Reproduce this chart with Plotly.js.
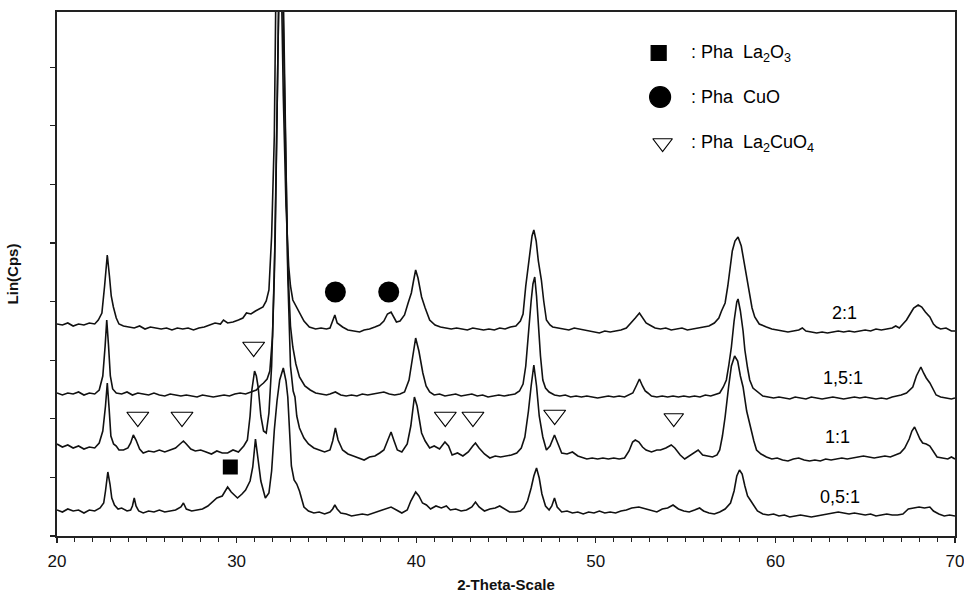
<!DOCTYPE html>
<html>
<head>
<meta charset="utf-8">
<script src="https://cdn.plot.ly/plotly-3.0.1.min.js"></script>
<style>html,body{margin:0;padding:0;background:#fff;}#chart{width:964px;height:594px;}</style>
</head>
<body>
<div id="chart"></div>
<script>
// ---- data (2-theta in degrees, intensity in arbitrary Lin(Cps) units, offset as drawn) ----
const x_05 = [20.0,20.3,20.6,20.9,21.2,21.5,21.8,22.1,22.4,22.6,22.7,22.83,22.95,23.05,23.2,23.4,23.6,23.9,24.1,24.2,24.3,24.4,24.55,24.8,25.1,25.4,25.7,26.0,26.3,26.6,26.9,27.04,27.2,27.5,27.8,28.1,28.4,28.6,28.9,29.2,29.5,29.7,29.9,30.05,30.3,30.5,30.75,30.9,31.05,31.2,31.35,31.6,31.8,31.95,32.1,32.25,32.4,32.6,32.75,32.85,32.95,33.05,33.2,33.35,33.5,33.75,34.0,34.3,34.6,34.9,35.2,35.35,35.47,35.6,35.8,36.1,36.4,36.7,37.0,37.3,37.6,37.9,38.2,38.6,38.9,39.2,39.5,39.7,39.97,40.15,40.35,40.57,40.8,41.1,41.4,41.68,41.9,42.2,42.5,42.8,43.1,43.3,43.5,43.8,44.1,44.4,44.65,44.9,45.2,45.5,45.8,46.0,46.2,46.4,46.55,46.7,46.85,47.0,47.2,47.4,47.55,47.7,47.85,48.1,48.4,48.7,49.0,49.3,49.6,49.9,50.2,50.5,50.8,51.1,51.4,51.7,52.0,52.4,52.8,53.1,53.4,53.7,54.0,54.3,54.6,54.9,55.2,55.5,55.78,56.0,56.3,56.6,56.9,57.2,57.5,57.7,57.85,58.0,58.15,58.3,58.45,58.6,58.8,59.0,59.3,59.6,59.9,60.2,60.5,60.8,61.1,61.4,61.7,62.0,62.3,62.6,62.9,63.2,63.5,63.8,64.1,64.4,64.7,65.0,65.3,65.6,65.9,66.2,66.5,66.8,67.1,67.4,67.7,68.0,68.3,68.6,68.8,69.1,69.4,69.7,70.0];
const y_05 = [26,24,27,25,26,23,26,25,28,33,45,64,52,38,31,27,28,25,26,30,38,30,25,23,25,24,26,24,25,26,29,33,27,25,26,27,30,33,38,40,49,44,40,38,42,46,55,69,97,75,55,38,43,65,106,135,156,168,155,139,100,70,56,52,45,29,25,23,24,22,24,27,31,27,23,22,20,21,22,21,23,25,27,29,26,23,26,35,44,40,33,31,27,30,28,30,26,27,25,26,29,34,29,25,27,28,30,27,24,24,25,28,35,48,60,68,58,42,30,26,30,38,29,24,25,23,24,22,24,23,25,23,24,23,25,26,28,29,27,25,24,27,28,31,27,25,24,26,28,25,23,22,24,27,33,45,60,66,62,50,40,36,30,25,22,21,22,20,21,19,20,21,20,19,20,21,22,23,24,23,22,23,22,21,22,20,21,22,21,21,22,27,28,29,28,29,25,22,20,21,20];

const x_11 = [20.0,20.3,20.6,20.9,21.2,21.5,21.8,22.1,22.35,22.55,22.7,22.8,22.9,23.0,23.15,23.3,23.45,23.7,23.95,24.1,24.25,24.4,24.6,24.8,25.1,25.4,25.7,26.0,26.3,26.6,26.85,27.04,27.2,27.45,27.7,28.0,28.3,28.6,28.9,29.2,29.5,29.8,30.1,30.4,30.6,30.75,30.85,31.0,31.1,31.2,31.35,31.5,31.65,31.8,31.95,32.1,32.25,32.4,32.55,32.7,32.85,33.0,33.15,33.25,33.35,33.5,33.75,34.0,34.3,34.6,34.9,35.2,35.35,35.5,35.65,35.9,36.2,36.5,36.8,37.1,37.4,37.7,37.97,38.2,38.4,38.6,38.75,38.95,39.2,39.5,39.7,39.9,40.05,40.3,40.5,40.75,41.0,41.3,41.6,41.8,42.0,42.3,42.6,42.9,43.15,43.3,43.5,43.8,44.1,44.4,44.7,45.0,45.3,45.6,45.85,46.05,46.25,46.4,46.55,46.7,46.85,47.05,47.25,47.45,47.7,47.9,48.1,48.4,48.7,49.0,49.2,49.5,49.8,50.1,50.4,50.7,51.0,51.3,51.6,51.85,52.05,52.2,52.4,52.6,52.8,53.1,53.4,53.6,53.9,54.2,54.4,54.7,54.95,55.2,55.5,55.7,55.95,56.2,56.5,56.75,56.9,57.05,57.2,57.4,57.55,57.73,57.9,58.05,58.2,58.4,58.6,58.8,58.95,59.2,59.5,59.8,60.1,60.4,60.7,61.0,61.3,61.6,61.9,62.2,62.5,62.8,63.1,63.4,63.7,64.0,64.3,64.6,64.9,65.2,65.5,65.8,66.1,66.4,66.7,66.95,67.2,67.45,67.6,67.75,67.9,68.05,68.2,68.4,68.6,68.8,69.0,69.3,69.6,69.8,70.0];
const y_11 = [92,89,91,88,90,87,89,88,93,105,130,153,128,100,92,90,86,86,88,93,101,96,87,83,85,84,86,84,86,88,92,95,92,87,85,86,84,82,85,83,83,86,84,90,96,120,146,165,160,149,120,105,103,123,170,260,420,600,600,430,260,170,145,139,120,108,98,92,88,86,84,86,95,108,96,86,82,80,78,76,79,80,83,86,95,104,96,86,84,92,110,139,130,103,95,88,90,87,94,90,81,83,80,84,90,93,88,82,78,80,79,80,81,83,88,99,125,150,171,150,120,99,86,90,101,92,83,82,84,80,79,77,78,77,78,77,78,77,78,85,94,96,94,89,86,84,86,86,88,91,88,81,77,80,84,86,81,80,79,81,86,100,119,150,170,180,175,160,149,125,109,95,86,82,79,77,78,76,75,77,78,76,75,76,75,77,76,77,78,77,78,79,80,79,78,79,80,79,81,83,88,97,105,109,103,97,93,92,90,84,79,78,77,79,77];

const x_151 = [20.0,20.3,20.6,20.9,21.2,21.5,21.8,22.1,22.35,22.55,22.68,22.77,22.87,22.97,23.1,23.3,23.6,23.9,24.2,24.5,24.8,25.1,25.4,25.7,26.0,26.3,26.6,26.9,27.2,27.5,27.8,28.1,28.4,28.7,29.0,29.3,29.6,29.9,30.2,30.5,30.8,31.1,31.3,31.5,31.7,31.85,32.0,32.15,32.3,32.4,32.55,32.7,32.85,33.0,33.13,33.3,33.5,33.8,34.1,34.4,34.7,35.0,35.2,35.5,35.8,36.1,36.4,36.7,37.0,37.3,37.6,37.9,38.2,38.5,38.8,39.1,39.35,39.6,39.8,39.97,40.15,40.37,40.55,40.75,41.0,41.3,41.6,41.9,42.2,42.5,42.8,43.1,43.4,43.7,44.0,44.3,44.6,44.9,45.2,45.5,45.75,45.95,46.1,46.25,46.4,46.5,46.6,46.7,46.8,46.92,47.05,47.2,47.4,47.7,48.0,48.3,48.6,48.9,49.2,49.5,49.8,50.1,50.4,50.7,51.0,51.3,51.6,51.85,52.06,52.25,52.43,52.6,52.75,52.9,53.1,53.4,53.7,54.0,54.3,54.6,54.9,55.2,55.5,55.8,56.1,56.4,56.7,56.9,57.1,57.27,57.4,57.55,57.7,57.85,57.92,58.05,58.2,58.3,58.45,58.57,58.75,59.0,59.3,59.6,59.9,60.2,60.5,60.8,61.1,61.4,61.7,62.0,62.3,62.6,62.9,63.2,63.5,63.8,64.1,64.4,64.7,65.0,65.3,65.6,65.9,66.2,66.5,66.8,67.0,67.3,67.5,67.65,67.85,68.0,68.1,68.25,68.4,68.6,68.8,68.95,69.2,69.5,69.8,70.0];
const y_151 = [143,141,143,142,144,141,143,142,146,160,190,216,190,160,147,143,142,144,141,143,142,141,143,141,140,142,141,140,141,140,139,141,140,139,140,141,140,142,143,142,144,146,150,153,157,165,200,300,480,600,560,400,270,210,189,172,159,150,146,143,142,141,142,144,141,140,141,140,142,141,142,143,144,142,141,142,144,156,180,198,185,163,150,144,141,142,140,141,142,140,141,142,140,141,139,140,141,140,141,142,145,152,170,205,235,252,259,240,210,180,156,148,144,141,140,141,139,140,139,140,139,138,139,140,139,140,139,141,143,150,157,150,145,143,140,139,140,139,140,139,140,139,140,139,141,140,142,143,149,156,170,189,215,234,237,225,205,186,168,156,148,144,140,139,138,139,138,137,139,138,137,139,138,137,138,139,138,137,138,139,138,139,138,137,138,137,139,140,141,143,146,149,160,166,169,163,158,153,146,141,139,138,137,138];

const x_21 = [20.0,20.3,20.6,20.9,21.2,21.5,21.8,22.1,22.3,22.5,22.65,22.8,22.92,23.02,23.14,23.3,23.45,23.7,24.0,24.3,24.6,24.9,25.2,25.5,25.8,26.1,26.4,26.7,27.0,27.3,27.6,27.9,28.2,28.5,28.8,29.1,29.27,29.5,29.8,30.1,30.35,30.55,30.8,31.05,31.3,31.47,31.65,31.8,31.95,32.1,32.22,32.45,32.6,32.75,32.9,33.0,33.13,33.3,33.5,33.75,34.05,34.4,34.7,35.0,35.2,35.35,35.47,35.6,35.9,36.2,36.5,36.85,37.1,37.4,37.7,37.97,38.2,38.4,38.6,38.75,38.9,39.1,39.35,39.55,39.73,39.85,39.97,40.1,40.3,40.5,40.75,41.05,41.35,41.65,41.95,42.25,42.55,42.85,43.15,43.45,43.75,44.05,44.35,44.65,44.95,45.25,45.55,45.8,45.95,46.1,46.3,46.45,46.55,46.68,46.8,46.97,47.1,47.25,47.45,47.6,47.9,48.2,48.5,48.8,49.1,49.4,49.7,50.0,50.2,50.5,50.8,51.1,51.4,51.7,51.97,52.2,52.43,52.6,52.8,53.0,53.3,53.6,53.9,54.2,54.5,54.8,55.1,55.4,55.7,56.0,56.3,56.6,56.85,57.0,57.2,57.35,57.45,57.6,57.75,57.92,58.1,58.3,58.45,58.57,58.7,58.85,59.1,59.5,59.8,60.1,60.4,60.7,61.0,61.3,61.5,61.7,62.0,62.3,62.6,62.9,63.2,63.5,63.8,64.1,64.4,64.7,65.0,65.3,65.6,65.9,66.2,66.5,66.7,66.9,67.1,67.3,67.5,67.7,67.95,68.15,68.35,68.6,68.8,68.97,69.2,69.5,69.8,70.0];
const y_21 = [212,211,213,210,212,211,213,212,216,223,250,281,260,240,229,218,212,210,209,208,210,207,209,208,207,208,206,208,207,208,206,208,209,211,213,212,216,213,214,216,218,223,222,225,227,229,235,246,300,400,600,600,440,330,270,250,236,230,223,215,209,207,208,207,208,215,221,213,209,206,205,204,206,207,209,211,215,222,224,219,214,215,221,233,243,255,266,258,239,228,216,211,209,208,207,208,207,206,208,207,206,207,206,208,207,209,210,215,222,250,280,300,306,295,275,256,235,216,211,209,208,207,206,208,207,206,205,204,203,205,204,205,206,208,213,218,223,218,213,211,208,207,208,206,207,208,206,207,208,209,210,213,218,225,233,250,266,285,295,299,290,269,255,239,228,219,212,209,207,206,205,204,205,206,208,205,204,203,204,203,204,205,204,205,204,205,206,205,207,206,207,208,210,208,212,216,222,228,231,229,224,219,212,209,207,208,205,205];

// phase markers
const sq_x = [29.65], sq_y = [69];
const cir_x = [35.5, 38.47], cir_y = [244, 244];
const tri_x = [24.5, 26.96, 30.95, 41.62, 43.16, 47.71, 54.34];
const tri_y = [119, 119, 189, 119, 119, 121, 118];
const tri_size = [19, 19, 19, 19, 19, 19, 17];

// legend (drawn in chart)
const leg_sym = ['square', 'circle', 'triangle-down-open'];
const leg_x = [53.5, 53.58, 53.72];
const leg_y = [483, 439, 393];
const leg_size = [15, 21, 17];
const leg_text = [': Pha\u00a0\u00a0La<sub>2</sub>O<sub>3</sub>', ': Pha\u00a0\u00a0CuO', ': Pha\u00a0\u00a0La<sub>2</sub>CuO<sub>4</sub>'];
const leg_tx = 55.2;

// sample labels
const lab_text = ['2:1', '1,5:1', '1:1', '0,5:1'];
const lab_x = [63.86, 63.75, 63.47, 63.57];
const lab_y = [223, 158, 99, 39];

const FONT = 'Liberation Sans, Arial, sans-serif';
const lineStyle = {color: '#111', width: 1.6};

const traces = [
  {x: x_05, y: y_05, mode: 'lines', line: lineStyle},
  {x: x_11, y: y_11, mode: 'lines', line: lineStyle},
  {x: x_151, y: y_151, mode: 'lines', line: lineStyle},
  {x: x_21, y: y_21, mode: 'lines', line: lineStyle},
  {x: sq_x, y: sq_y, mode: 'markers', marker: {symbol: 'square', size: 15, color: '#000', opacity: 1}},
  {x: cir_x, y: cir_y, mode: 'markers', marker: {symbol: 'circle', size: 21, color: '#000', opacity: 1}},
  {x: tri_x, y: tri_y, mode: 'markers', marker: {symbol: 'triangle-down-open', size: tri_size, color: '#000', opacity: 1, line: {width: 1.2, color: '#000'}}},
  {x: leg_x, y: leg_y, mode: 'markers', marker: {symbol: leg_sym, size: leg_size, color: '#000', opacity: 1, line: {width: 1.2, color: '#000'}}}
];

const annotations = [];
leg_text.forEach((t, i) => annotations.push({x: leg_tx, y: leg_y[i], text: t, showarrow: false, xanchor: 'left', yanchor: 'middle', font: {family: FONT, size: 18, color: '#000'}}));
lab_text.forEach((t, i) => annotations.push({x: lab_x[i], y: lab_y[i], text: t, showarrow: false, xanchor: 'center', yanchor: 'middle', font: {family: FONT, size: 18, color: '#000'}}));

const layout = {
  width: 964, height: 594,
  margin: {l: 57, r: 9, t: 12, b: 58},
  paper_bgcolor: '#fff', plot_bgcolor: '#fff',
  showlegend: false,
  font: {family: FONT, color: '#000'},
  xaxis: {
    range: [20, 70], tick0: 20, dtick: 10, ticks: 'outside', ticklen: 5, tickwidth: 1.3, tickcolor: '#222',
    minor: {dtick: 1, ticks: 'outside', ticklen: 4, tickwidth: 1, tickcolor: '#222'},
    showgrid: false, zeroline: false, showline: true, linecolor: '#222', linewidth: 1.6, mirror: true,
    tickfont: {family: FONT, size: 17, color: '#111'}, ticklabelstandoff: 4, ticklabeloverflow: 'allow',
    title: {text: '<b>2-Theta-Scale</b>', font: {family: FONT, size: 15, color: '#111'}, standoff: 9}
  },
  yaxis: {
    range: [0, 524], tick0: 0, dtick: 58.6, ticks: 'outside', ticklen: 5, tickwidth: 1.3, tickcolor: '#222',
    showticklabels: false, showgrid: false, zeroline: false, showline: true, linecolor: '#222', linewidth: 1.6, mirror: true,
    title: {text: '<b>Lin(Cps)</b>', font: {family: FONT, size: 15, color: '#111'}, standoff: 28}
  },
  annotations: annotations
};

Plotly.newPlot('chart', traces, layout, {staticPlot: true, displayModeBar: false});
</script>
</body>
</html>
